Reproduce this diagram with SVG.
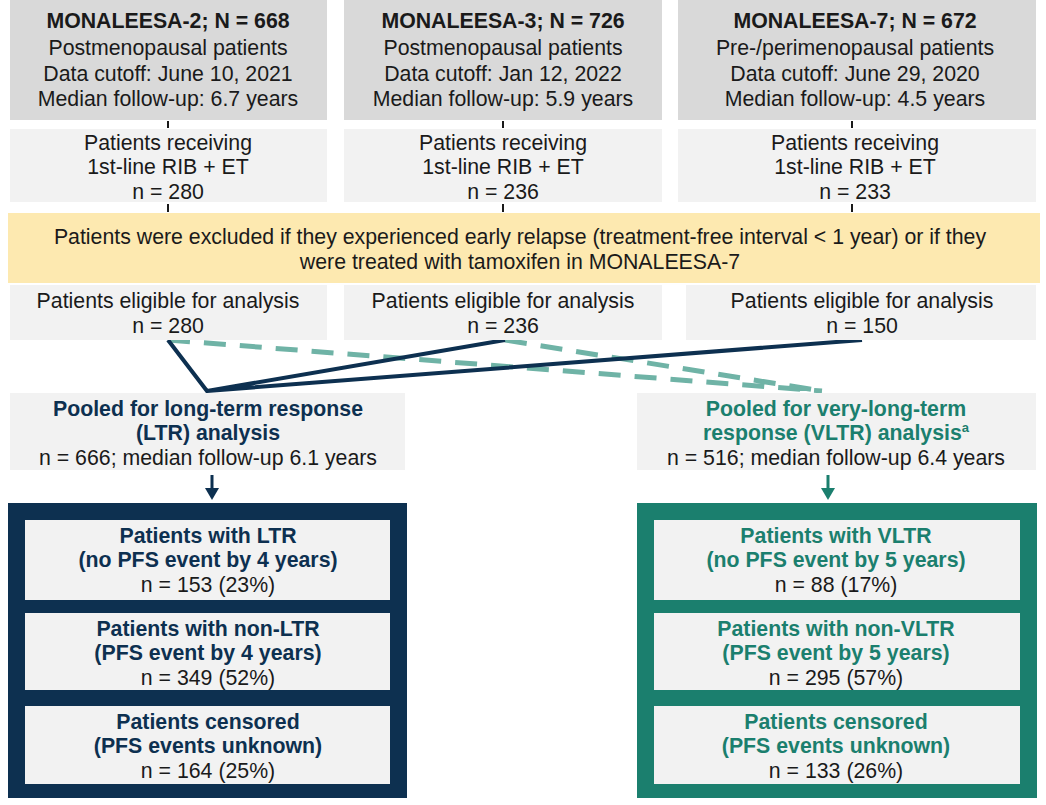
<svg xmlns="http://www.w3.org/2000/svg" width="1046" height="805" viewBox="0 0 1046 805">
<style>
text{font-family:"Liberation Sans",Arial,sans-serif;font-size:21.3px;fill:#1a1a1a;text-anchor:middle}
.b{font-weight:bold}
.g1{fill:#d9d9d9}.g2{fill:#f2f2f2}
.navy{fill:#0d3050}.teal{fill:#1b7f6e}
.tn{fill:#0d3050;font-weight:bold}.tt{fill:#1b7f6e;font-weight:bold}
.tick{stroke:#1a1a1a;stroke-width:2}
.sol{stroke:#0d3050;stroke-width:4;fill:none}
.dash{stroke:#6fb3a6;stroke-width:5;fill:none;stroke-dasharray:22 14}
</style>
<rect width="1046" height="805" fill="#fff"/>
<g id="connectors">
<line class="tick" x1="168" y1="121" x2="168" y2="128"/>
<line class="tick" x1="503" y1="121" x2="503" y2="128"/>
<line class="tick" x1="852" y1="121" x2="852" y2="128"/>
<line class="tick" x1="168" y1="204" x2="168" y2="212"/>
<line class="tick" x1="503" y1="204" x2="503" y2="212"/>
<line class="tick" x1="852" y1="204" x2="852" y2="212"/>
<path class="dash" d="M168 340 L822 391 M505 340 L822 391"/>
<path class="sol" d="M168 340 L207 391 L505 340 M207 391 L862 340"/>
<line x1="212" y1="475" x2="212" y2="490" stroke="#0d3050" stroke-width="3"/>
<polygon points="205,488 219,488 212,500" fill="#0d3050"/>
<line x1="828" y1="475" x2="828" y2="490" stroke="#1b7f6e" stroke-width="3"/>
<polygon points="821,488 835,488 828,500" fill="#1b7f6e"/>
</g>
<g id="ml2">
<rect class="g1" x="10" y="0" width="317" height="120"/>
<text x="168" y="28" class="b">MONALEESA-2; N = 668</text>
<text x="168" y="55">Postmenopausal patients</text>
<text x="168" y="81">Data cutoff: June 10, 2021</text>
<text x="168" y="106">Median follow-up: 6.7 years</text>
</g>
<g id="ml3">
<rect class="g1" x="344" y="0" width="318" height="120"/>
<text x="503" y="28" class="b">MONALEESA-3; N = 726</text>
<text x="503" y="55">Postmenopausal patients</text>
<text x="503" y="81">Data cutoff: Jan 12, 2022</text>
<text x="503" y="106">Median follow-up: 5.9 years</text>
</g>
<g id="ml7">
<rect class="g1" x="678" y="0" width="358" height="120"/>
<text x="855" y="28" class="b">MONALEESA-7; N = 672</text>
<text x="855" y="55">Pre-/perimenopausal patients</text>
<text x="855" y="81">Data cutoff: June 29, 2020</text>
<text x="855" y="106">Median follow-up: 4.5 years</text>
</g>
<g id="rec2"><rect class="g2" x="10" y="129" width="317" height="73"/>
<text x="168" y="150">Patients receiving</text><text x="168" y="174">1st-line RIB + ET</text><text x="168" y="199">n = 280</text></g>
<g id="rec3"><rect class="g2" x="344" y="129" width="318" height="73"/>
<text x="503" y="150">Patients receiving</text><text x="503" y="174">1st-line RIB + ET</text><text x="503" y="199">n = 236</text></g>
<g id="rec7"><rect class="g2" x="678" y="129" width="358" height="73"/>
<text x="855" y="150">Patients receiving</text><text x="855" y="174">1st-line RIB + ET</text><text x="855" y="199">n = 233</text></g>
<g id="excl"><rect x="8" y="213" width="1032" height="70" fill="#fde9b0"/>
<text x="520" y="244">Patients were excluded if they experienced early relapse (treatment-free interval &lt; 1 year) or if they</text>
<text x="520" y="269">were treated with tamoxifen in MONALEESA-7</text></g>
<g id="el2"><rect class="g2" x="10" y="285" width="317" height="55"/>
<text x="168" y="308">Patients eligible for analysis</text><text x="168" y="333">n = 280</text></g>
<g id="el3"><rect class="g2" x="344" y="285" width="318" height="55"/>
<text x="503" y="308">Patients eligible for analysis</text><text x="503" y="333">n = 236</text></g>
<g id="el7"><rect class="g2" x="686" y="285" width="350" height="55"/>
<text x="862" y="308">Patients eligible for analysis</text><text x="862" y="333">n = 150</text></g>
<g id="ltr"><rect class="g2" x="10" y="393" width="395" height="77"/>
<text x="208" y="416" class="tn">Pooled for long-term response</text>
<text x="208" y="440" class="tn">(LTR) analysis</text>
<text x="208" y="465">n = 666; median follow-up 6.1 years</text></g>
<g id="vltr"><rect class="g2" x="637" y="393" width="399" height="77"/>
<text x="836" y="416" class="tt">Pooled for very-long-term</text>
<text x="836" y="440" class="tt">response (VLTR) analysis<tspan font-size="13" dy="-8">a</tspan></text>
<text x="836" y="465">n = 516; median follow-up 6.4 years</text></g>
<g id="ltrbox"><rect class="navy" x="8" y="503" width="399" height="295"/>
<rect class="g2" x="25" y="520" width="365" height="80"/>
<text x="208" y="543" class="tn">Patients with LTR</text><text x="208" y="567" class="tn">(no PFS event by 4 years)</text><text x="208" y="592">n = 153 (23%)</text>
<rect class="g2" x="25" y="613" width="365" height="77"/>
<text x="208" y="636" class="tn">Patients with non-LTR</text><text x="208" y="660" class="tn">(PFS event by 4 years)</text><text x="208" y="685">n = 349 (52%)</text>
<rect class="g2" x="25" y="706" width="365" height="78"/>
<text x="208" y="729" class="tn">Patients censored</text><text x="208" y="753" class="tn">(PFS events unknown)</text><text x="208" y="778">n = 164 (25%)</text></g>
<g id="vltrbox"><rect class="teal" x="637" y="503" width="400" height="295"/>
<rect class="g2" x="654" y="520" width="366" height="80"/>
<text x="836" y="543" class="tt">Patients with VLTR</text><text x="836" y="567" class="tt">(no PFS event by 5 years)</text><text x="836" y="592">n = 88 (17%)</text>
<rect class="g2" x="654" y="613" width="366" height="77"/>
<text x="836" y="636" class="tt">Patients with non-VLTR</text><text x="836" y="660" class="tt">(PFS event by 5 years)</text><text x="836" y="685">n = 295 (57%)</text>
<rect class="g2" x="654" y="706" width="366" height="78"/>
<text x="836" y="729" class="tt">Patients censored</text><text x="836" y="753" class="tt">(PFS events unknown)</text><text x="836" y="778">n = 133 (26%)</text></g>
</svg>
